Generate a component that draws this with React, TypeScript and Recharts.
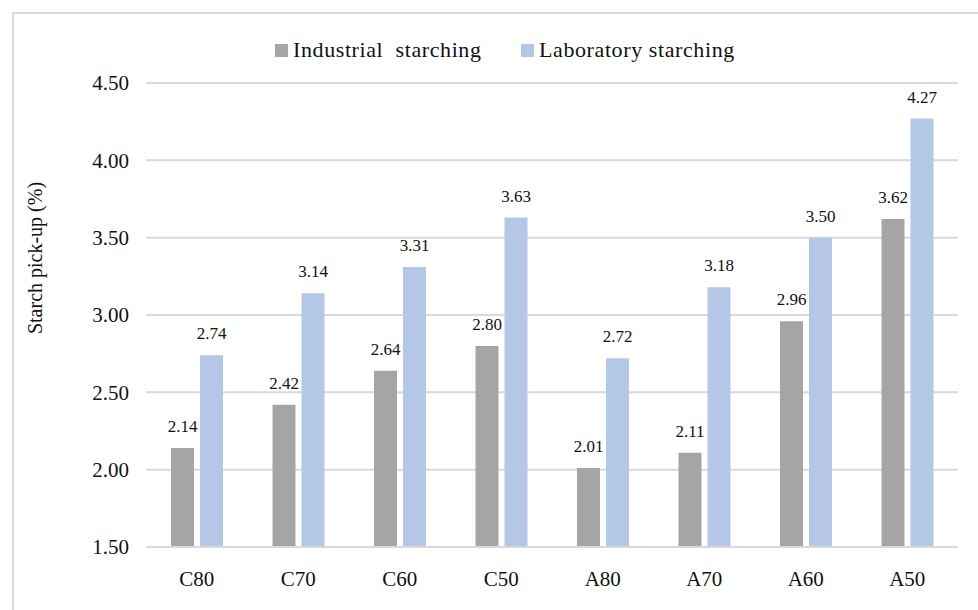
import { Bar, BarChart, CartesianGrid, LabelList, XAxis, YAxis, Label } from 'recharts'

const samples = ['C80', 'C70', 'C60', 'C50', 'A80', 'A70', 'A60', 'A50']
const industrial = [2.14, 2.42, 2.64, 2.8, 2.01, 2.11, 2.96, 3.62]
const laboratory = [2.74, 3.14, 3.31, 3.63, 2.72, 3.18, 3.5, 4.27]
const yTicks = [1.5, 2, 2.5, 3, 3.5, 4, 4.5]

const FONT = '"Liberation Serif", "Times New Roman", serif'
const GRAY = '#a5a5a5'
const BLUE = '#b4c7e7'
const GRID = '#d9d9d9'

const rows = samples.map((name, i) => ({
  name,
  industrial: industrial[i],
  laboratory: laboratory[i],
}))

function LegendItem({ color, text, left }: { color: string; text: string; left: number }) {
  return (
    <div style={{ position: 'absolute', left, top: 37, display: 'flex', alignItems: 'center' }}>
      <span style={{ width: 13, height: 13, background: color, marginRight: 5 }} />
      <span style={{ fontSize: 22, letterSpacing: 0.6, whiteSpace: 'pre', color: '#111' }}>{text}</span>
    </div>
  )
}

export default function App() {
  return (
    <div
      style={{
        position: 'absolute',
        left: 0,
        top: 0,
        width: 978,
        height: 610,
        overflow: 'hidden',
        background: '#fff',
        fontFamily: FONT,
      }}
    >
      <div
        style={{
          position: 'absolute',
          left: 12,
          top: 12,
          width: 1000,
          height: 700,
          border: `2px solid ${GRID}`,
        }}
      />
      <LegendItem color={GRAY} text="Industrial  starching" left={275} />
      <LegendItem color={BLUE} text="Laboratory starching" left={521} />
      <div style={{ position: 'absolute', left: 0, top: 0 }}>
        <BarChart
          width={978}
          height={610}
          data={rows}
          margin={{ top: 83, right: 20, left: 0, bottom: 0 }}
          barGap={6}
          barSize={23}
        >
          <CartesianGrid vertical={false} stroke={GRID} strokeWidth={2} />
          <XAxis
            dataKey="name"
            height={63}
            tickLine={false}
            axisLine={{ stroke: GRID, strokeWidth: 2 }}
            tickMargin={18}
            tick={{ fontSize: 21, fill: '#111', fontFamily: FONT }}
          />
          <YAxis
            width={146}
            domain={[1.5, 4.5]}
            ticks={yTicks}
            interval={0}
            tickLine={false}
            axisLine={false}
            tickMargin={11}
            tickFormatter={(v: number) => v.toFixed(2)}
            tick={{ fontSize: 21, fill: '#111', fontFamily: FONT }}
          >
            <Label
              content={() => (
                <text
                  x={35}
                  y={258}
                  transform="rotate(-90, 35, 258)"
                  textAnchor="middle"
                  dominantBaseline="central"
                  fontSize={20}
                  fill="#111"
                  fontFamily={FONT}
                >
                  Starch pick-up (%)
                </text>
              )}
            />
          </YAxis>
          <Bar dataKey="industrial" fill={GRAY} isAnimationActive={false}>
            <LabelList
              dataKey="industrial"
              position="top"
              offset={16}
              formatter={(v: any) => Number(v).toFixed(2)}
              style={{ fontSize: 17, fill: '#111', fontFamily: FONT }}
            />
          </Bar>
          <Bar dataKey="laboratory" fill={BLUE} isAnimationActive={false}>
            <LabelList
              dataKey="laboratory"
              position="top"
              offset={16}
              formatter={(v: any) => Number(v).toFixed(2)}
              style={{ fontSize: 17, fill: '#111', fontFamily: FONT }}
            />
          </Bar>
        </BarChart>
      </div>
    </div>
  )
}
